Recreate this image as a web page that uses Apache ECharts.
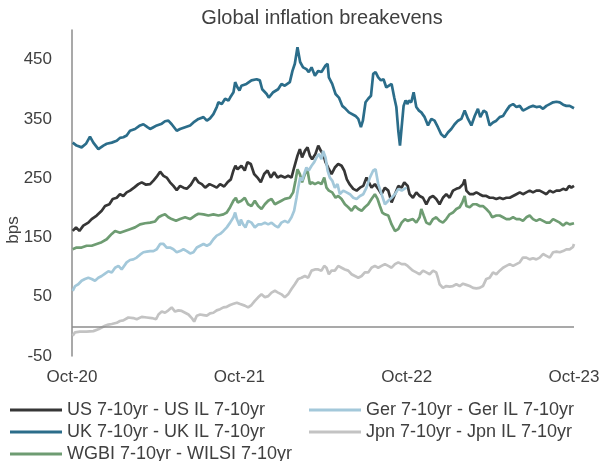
<!DOCTYPE html>
<html>
<head>
<meta charset="utf-8">
<script src="https://cdn.jsdelivr.net/npm/echarts@6/dist/echarts.min.js"></script>
<style>
  html, body { margin: 0; padding: 0; background: #fff; }
  #chart { width: 604px; height: 461px; }
</style>
</head>
<body>
<div id="chart"></div>
<script>
// x = months since Oct-20, y = bps
const tickLabels = ['Oct-20', 'Oct-21', 'Oct-22', 'Oct-23']

const seriesNames = {
  us: 'US 7-10yr - US IL 7-10yr',
  uk: 'UK 7-10yr - UK IL 7-10yr',
  wgbi: 'WGBI 7-10yr - WILSI 7-10yr',
  ger: 'Ger 7-10yr - Ger IL 7-10yr',
  jpn: 'Jpn 7-10yr - Jpn IL 7-10yr'
}

const usSpread = [[0.05,161],[0.29,167],[0.53,161],[0.81,170],[1.17,175],[1.41,181],[1.77,187],[2.13,195],[2.37,203],[2.68,206],[2.92,215],[3.21,217],[3.44,223],[3.68,220],[3.92,226],[4.16,229],[4.45,234],[4.76,240],[5.0,243],[5.31,239],[5.6,240],[5.84,246],[6.12,254],[6.32,261],[6.56,254],[6.79,251],[7.03,243],[7.27,237],[7.51,230],[7.75,237],[7.99,234],[8.23,232],[8.52,239],[8.83,251],[9.07,243],[9.31,240],[9.55,234],[9.86,240],[10.14,237],[10.38,234],[10.62,240],[10.91,236],[11.15,243],[11.39,248],[11.58,263],[11.72,271],[11.87,265],[12.01,262],[12.15,271],[12.39,263],[12.58,277],[12.82,274],[13.06,257],[13.3,251],[13.54,243],[13.78,257],[14.02,263],[14.26,251],[14.5,260],[14.74,251],[14.98,254],[15.26,251],[15.5,254],[15.74,251],[15.93,268],[16.17,288],[16.34,299],[16.5,285],[16.7,296],[16.89,302],[17.06,288],[17.22,282],[17.46,291],[17.66,305],[17.85,296],[18.01,291],[18.18,277],[18.37,268],[18.61,257],[18.85,268],[19.09,274],[19.33,271],[19.52,263],[19.71,248],[19.9,240],[20.17,232],[20.41,229],[20.65,234],[20.89,237],[21.12,251],[21.29,243],[21.48,234],[21.72,240],[21.96,232],[22.2,223],[22.44,234],[22.68,229],[22.92,209],[23.16,223],[23.4,237],[23.64,234],[23.83,243],[24.07,237],[24.21,223],[24.45,217],[24.69,226],[24.93,220],[25.17,217],[25.41,206],[25.65,217],[25.89,220],[26.12,215],[26.36,206],[26.6,217],[26.84,223],[27.08,217],[27.32,229],[27.56,232],[27.8,234],[28.04,240],[28.16,248],[28.28,229],[28.52,223],[28.76,223],[29.0,226],[29.23,223],[29.47,220],[29.71,220],[29.95,217],[30.19,217],[30.43,215],[30.67,217],[30.91,215],[31.15,217],[31.39,217],[31.63,220],[31.87,223],[32.11,226],[32.34,223],[32.58,226],[32.82,229],[33.06,226],[33.3,229],[33.54,229],[33.78,226],[34.02,223],[34.26,229],[34.5,226],[34.74,229],[34.98,229],[35.22,232],[35.45,230],[35.65,237],[35.81,234],[36,237]]

const ukSpread = [[0.05,310],[0.33,305],[0.69,302],[1.0,308],[1.29,320],[1.53,310],[1.89,299],[2.25,305],[2.49,308],[2.85,310],[3.21,313],[3.44,318],[3.68,319],[3.92,322],[4.16,330],[4.52,333],[4.88,339],[5.12,341],[5.41,336],[5.6,333],[5.84,336],[6.08,339],[6.44,342],[6.67,346],[6.91,347],[7.15,341],[7.51,330],[7.75,333],[8.11,336],[8.47,339],[8.71,344],[9.07,350],[9.43,353],[9.67,347],[9.9,351],[10.14,358],[10.38,370],[10.5,378],[10.74,375],[10.98,384],[11.22,381],[11.34,386],[11.58,395],[11.7,412],[11.87,403],[12.01,398],[12.15,406],[12.51,409],[12.87,415],[13.24,417],[13.47,415],[13.64,400],[13.96,392],[14.11,386],[14.43,395],[14.78,400],[15.02,409],[15.26,406],[15.62,412],[15.81,431],[15.98,443],[16.17,471],[16.36,446],[16.57,437],[16.81,434],[16.98,429],[17.18,437],[17.42,423],[17.66,431],[17.89,429],[18.18,440],[18.33,443],[18.42,420],[18.66,409],[18.9,392],[19.14,386],[19.38,372],[19.62,367],[19.86,361],[20.0,364],[20.33,355],[20.53,350],[20.72,336],[20.86,347],[21.05,378],[21.24,384],[21.44,389],[21.6,426],[21.77,429],[21.96,420],[22.15,415],[22.34,417],[22.54,403],[22.73,406],[22.92,409],[23.11,386],[23.26,370],[23.4,330],[23.52,305],[23.64,336],[23.78,372],[23.92,381],[24.07,375],[24.16,381],[24.33,378],[24.5,395],[24.69,370],[24.88,364],[25.05,361],[25.29,353],[25.53,339],[25.77,350],[26.0,347],[26.24,336],[26.48,324],[26.72,319],[26.96,327],[27.2,333],[27.44,341],[27.68,347],[27.92,350],[28.16,364],[28.4,350],[28.64,339],[28.88,355],[29.11,367],[29.28,353],[29.52,364],[29.71,361],[29.95,339],[30.19,344],[30.43,347],[30.67,353],[30.91,355],[31.15,364],[31.39,372],[31.63,375],[31.87,370],[32.11,372],[32.34,364],[32.58,367],[32.82,370],[33.06,372],[33.3,370],[33.54,371],[33.78,367],[34.02,372],[34.26,375],[34.5,378],[34.74,379],[34.98,378],[35.22,374],[35.45,372],[35.69,372],[36,368]]

const wgbiSpread = [[0.05,130],[0.33,133],[0.69,133],[1.05,136],[1.41,136],[1.77,139],[2.13,142],[2.49,147],[2.85,156],[3.09,161],[3.44,158],[3.8,161],[4.16,164],[4.52,167],[4.88,172],[5.24,174],[5.6,175],[5.96,177],[6.2,184],[6.44,187],[6.67,189],[6.91,184],[7.15,181],[7.46,178],[7.75,181],[8.11,184],[8.47,181],[8.83,187],[9.07,190],[9.43,189],[9.78,187],[10.14,189],[10.5,187],[10.86,189],[11.1,192],[11.34,201],[11.58,212],[11.75,217],[11.89,209],[12.01,206],[12.15,212],[12.39,217],[12.63,206],[12.87,203],[13.11,212],[13.35,203],[13.59,198],[13.83,206],[14.07,212],[14.31,215],[14.55,206],[14.78,209],[15.02,212],[15.26,215],[15.62,217],[15.86,226],[16.03,246],[16.17,265],[16.34,257],[16.5,243],[16.7,257],[16.89,263],[17.06,240],[17.22,243],[17.42,240],[17.66,243],[17.89,240],[18.09,251],[18.25,234],[18.42,229],[18.66,226],[18.9,217],[19.09,220],[19.33,215],[19.57,206],[19.81,201],[20.05,195],[20.29,203],[20.53,198],[20.77,195],[21.0,201],[21.24,206],[21.48,215],[21.72,223],[21.91,215],[22.08,203],[22.25,192],[22.44,189],[22.68,187],[22.92,172],[23.16,161],[23.4,164],[23.64,175],[23.88,181],[24.07,178],[24.21,175],[24.45,181],[24.69,175],[24.93,184],[25.05,198],[25.22,187],[25.41,175],[25.65,172],[25.89,181],[26.12,184],[26.36,178],[26.6,175],[26.84,181],[27.08,189],[27.32,192],[27.56,198],[27.8,201],[27.99,209],[28.16,220],[28.28,203],[28.52,201],[28.76,206],[29.0,206],[29.23,203],[29.47,203],[29.71,198],[29.95,192],[30.14,184],[30.43,187],[30.67,187],[30.91,184],[31.15,181],[31.39,181],[31.63,184],[31.87,181],[32.11,181],[32.34,178],[32.58,184],[32.82,187],[33.06,181],[33.3,178],[33.54,181],[33.78,178],[34.02,175],[34.26,175],[34.5,181],[34.74,178],[34.98,175],[35.22,170],[35.45,175],[35.69,172],[36,174]]

const gerSpread = [[0.05,60],[0.22,68],[0.45,71],[0.69,77],[0.93,80],[1.17,82],[1.41,80],[1.65,77],[1.89,82],[2.13,85],[2.37,89],[2.61,93],[2.85,91],[3.09,99],[3.33,102],[3.56,96],[3.68,94],[3.92,108],[4.16,112],[4.4,113],[4.64,116],[4.88,121],[5.12,125],[5.36,126],[5.6,127],[5.84,127],[6.08,130],[6.32,139],[6.56,139],[6.79,133],[7.03,133],[7.27,130],[7.51,125],[7.75,127],[7.99,130],[8.23,127],[8.47,123],[8.71,125],[8.95,133],[9.19,136],[9.43,139],[9.67,136],[9.9,139],[10.14,147],[10.38,153],[10.62,156],[10.86,161],[11.1,167],[11.34,175],[11.58,184],[11.7,192],[11.82,181],[11.91,176],[12.01,170],[12.11,180],[12.27,172],[12.44,167],[12.63,178],[12.87,175],[13.11,167],[13.35,172],[13.59,172],[13.83,175],[14.07,172],[14.31,175],[14.55,170],[14.78,167],[15.02,175],[15.26,178],[15.5,175],[15.74,184],[15.93,195],[16.1,217],[16.22,234],[16.36,251],[16.5,246],[16.65,257],[16.81,268],[16.98,263],[17.18,271],[17.37,277],[17.54,285],[17.7,291],[17.89,282],[18.01,296],[18.18,285],[18.33,263],[18.49,251],[18.66,246],[18.85,234],[19.04,240],[19.21,223],[19.45,229],[19.69,226],[19.93,223],[20.17,217],[20.41,215],[20.65,220],[20.89,223],[21.12,234],[21.36,251],[21.6,263],[21.77,265],[21.96,240],[22.2,223],[22.44,206],[22.68,212],[22.92,217],[23.16,223],[23.4,232],[23.64,229],[23.83,232],[24.0,234]]

const jpnSpread = [[0.05,-16],[0.22,-10],[0.57,-9],[1.05,-9],[1.53,-8],[1.89,-5],[2.13,-2],[2.37,1],[2.61,3],[2.85,4],[3.21,6],[3.44,9],[3.68,10],[4.04,15],[4.4,14],[4.64,12],[5.0,16],[5.36,15],[5.72,14],[6.03,12],[6.2,20],[6.44,25],[6.67,23],[6.91,27],[7.15,32],[7.39,25],[7.63,27],[7.87,26],[8.11,23],[8.35,20],[8.59,14],[8.76,8],[8.95,18],[9.19,20],[9.43,19],[9.67,18],[9.9,22],[10.14,23],[10.38,27],[10.62,29],[10.86,32],[11.1,33],[11.34,36],[11.58,38],[11.82,40],[12.01,38],[12.15,37],[12.39,35],[12.63,32],[12.87,36],[13.11,43],[13.35,49],[13.59,54],[13.83,49],[14.07,51],[14.31,57],[14.55,60],[14.78,57],[15.02,54],[15.26,49],[15.5,54],[15.74,63],[15.98,71],[16.22,80],[16.46,82],[16.7,85],[16.94,82],[17.18,94],[17.42,96],[17.66,96],[17.89,94],[18.09,102],[18.25,99],[18.42,88],[18.61,94],[18.85,94],[19.09,102],[19.33,99],[19.57,96],[19.81,94],[20.05,88],[20.29,85],[20.53,82],[20.77,85],[21.0,91],[21.24,91],[21.48,99],[21.72,102],[21.96,99],[22.2,102],[22.44,105],[22.68,102],[22.92,99],[23.16,105],[23.4,108],[23.64,105],[23.88,105],[24.07,102],[24.21,102],[24.45,94],[24.69,91],[24.93,88],[25.17,94],[25.41,91],[25.65,88],[25.89,94],[26.12,91],[26.24,82],[26.36,71],[26.6,65],[26.84,68],[27.08,67],[27.32,68],[27.56,71],[27.8,68],[28.04,72],[28.28,70],[28.52,68],[28.76,65],[29.0,64],[29.23,65],[29.47,68],[29.71,80],[29.95,82],[30.19,91],[30.43,88],[30.67,94],[30.91,99],[31.15,102],[31.39,105],[31.63,102],[31.87,105],[32.11,108],[32.34,116],[32.58,116],[32.82,113],[33.06,115],[33.3,113],[33.54,116],[33.78,122],[34.02,119],[34.26,116],[34.5,125],[34.74,126],[34.98,125],[35.22,127],[35.45,130],[35.69,130],[35.93,134],[36,139]]

const FONT = 'Liberation Sans, Arial, sans-serif'
const TEXT = '#404040'
const AXIS = '#8c8c8c'

function lineSeries(name, data, color, extra) {
  return Object.assign({
    name,
    type: 'line',
    data,
    color,
    showSymbol: false,
    symbol: 'none',
    lineStyle: { width: 2.7, color },
    emphasis: { disabled: true }
  }, extra || {})
}

const legendBase = {
  orient: 'vertical',
  top: 401,
  height: 80,
  padding: 0,
  icon: 'rect',
  itemWidth: 52,
  itemHeight: 3,
  itemGap: 4,
  itemStyle: { borderWidth: 0 },
  textStyle: { fontFamily: FONT, fontSize: 18, color: TEXT, lineHeight: 17.5 }
}

const chart = echarts.init(document.getElementById('chart'), null, { renderer: 'canvas' })

chart.setOption({
  animation: false,
  title: {
    text: 'Global inflation breakevens',
    left: 322,
    top: 8,
    padding: 0,
    textAlign: 'center',
    textStyle: { fontFamily: FONT, fontSize: 20, fontWeight: 'normal', color: TEXT }
  },
  grid: { left: 72, right: 30, top: 30, bottom: 105 },
  xAxis: {
    type: 'value',
    min: 0,
    max: 36,
    interval: 12,
    axisLine: { show: false },
    axisTick: { show: false },
    splitLine: { show: false },
    axisLabel: {
      formatter: v => tickLabels[Math.round(v / 12)] || '',
      margin: 13,
      fontFamily: FONT,
      fontSize: 17,
      color: TEXT
    }
  },
  yAxis: {
    type: 'value',
    min: -50,
    max: 500,
    interval: 100,
    axisLine: { show: true, lineStyle: { color: AXIS, width: 1.5 } },
    axisTick: { show: false },
    splitLine: { show: false },
    axisLabel: { showMaxLabel: false, margin: 20, fontFamily: FONT, fontSize: 17, color: TEXT }
  },
  legend: [
    Object.assign({}, legendBase, { left: 10, data: [seriesNames.us, seriesNames.uk, seriesNames.wgbi] }),
    Object.assign({}, legendBase, { left: 309, data: [seriesNames.ger, seriesNames.jpn] })
  ],
  graphic: [{
    type: 'text',
    x: 13,
    y: 230,
    rotation: Math.PI / 2,
    style: { text: 'bps', fontFamily: FONT, fontSize: 17, fill: TEXT, align: 'center', verticalAlign: 'middle' }
  }],
  series: [
    lineSeries(seriesNames.jpn, jpnSpread, '#c3c3c3', {
      markLine: {
        silent: true,
        symbol: 'none',
        label: { show: false },
        lineStyle: { color: AXIS, width: 1.5, type: 'solid' },
        data: [{ yAxis: 0 }]
      }
    }),
    lineSeries(seriesNames.uk, ukSpread, '#2b6d8a'),
    lineSeries(seriesNames.wgbi, wgbiSpread, '#6e9c72'),
    lineSeries(seriesNames.us, usSpread, '#363636'),
    lineSeries(seriesNames.ger, gerSpread, '#a3c8da')
  ]
})
</script>
</body>
</html>
